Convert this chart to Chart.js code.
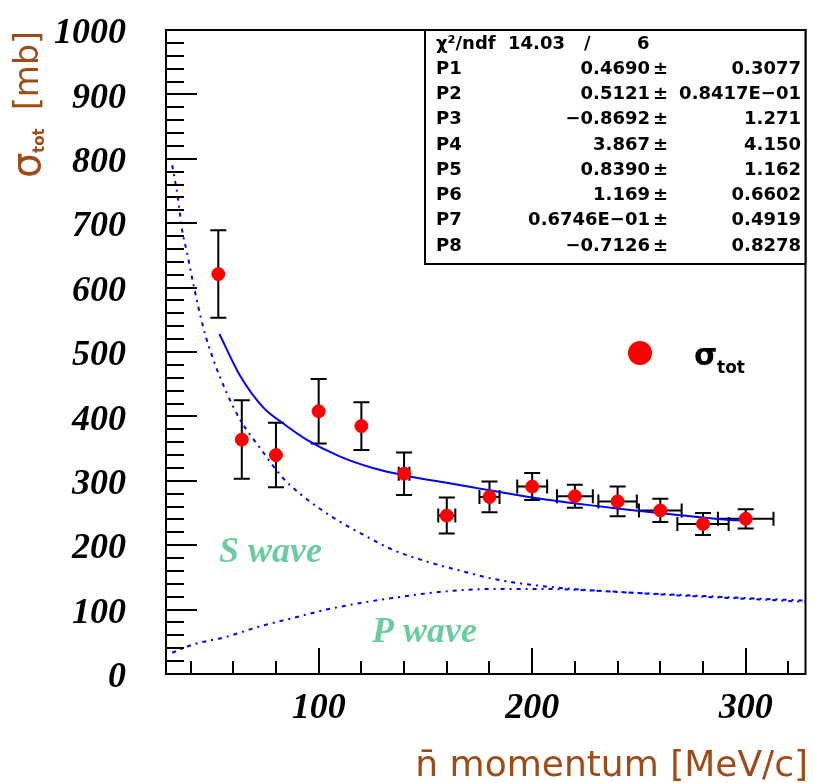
<!DOCTYPE html>
<html>
<head>
<meta charset="utf-8">
<script src="https://cdn.jsdelivr.net/npm/chart.js@4.4.0/dist/chart.umd.min.js"></script>
<style>
  html, body { margin: 0; padding: 0; background: #fff; }
  #wrap { width: 813px; height: 783px; }
</style>
</head>
<body>
<div id="wrap"><canvas id="c" width="813" height="783"></canvas></div>
<script>
// =========================
// DATA
// =========================
const momentum = [53, 64, 80, 100, 120, 140, 160, 180, 200, 220, 240, 260, 280, 300];
const sigmaTot = [621, 364, 340, 408, 385, 311, 246, 275, 291, 276, 268, 254, 233, 241];
const sigmaErr = [68, 61, 50, 50, 37, 33, 28, 24, 21, 18, 23, 18, 17, 15];
const momErr   = [0, 0, 0, 0, 0, 2.5, 4, 4.7, 7, 8.4, 9, 10, 12, 13];

// fit (solid line)
const fitX = [53.5, 63.2, 74, 83.4, 94.3, 109.8, 125.3, 140.9, 157.9, 173.5, 187.5, 206.1, 224.7, 244.9, 268.2, 290, 300];
const fitY = [528, 463, 414, 389, 364, 338, 320, 308, 298, 289, 281, 271, 263, 255, 247, 240, 238];

// S wave / P wave (dotted)
const sWaveX = [31.4, 34, 36, 38.3, 41.4, 46.1, 50.7, 57, 63.2, 72.5, 83.4, 92.7, 108.2, 122.2, 134.6, 150.2, 165.7, 182.8, 206.1, 237.1, 268.2, 299.3, 328];
const sWaveY = [790, 741, 690, 655, 604, 536, 488, 436, 395, 351, 304, 276, 240, 214, 193, 175, 161, 147, 136, 128, 123, 118, 114];
const pWaveX = [31.4, 41.4, 57, 72.5, 88, 103.6, 119.1, 134.6, 150.2, 165.7, 181.2, 206.1, 237.1, 268.2, 299.3, 328];
const pWaveY = [33, 46, 58, 74, 87, 100, 110, 118, 125, 130, 132, 132, 128, 122, 117, 112];

// axes
const xRange = [28.5, 328];
const yRange = [0, 1000];
const xTickLabels = [100, 200, 300];
const yTickLabels = [0, 100, 200, 300, 400, 500, 600, 700, 800, 900, 1000];
const minorStep = 20;

// fit statistics box
const statNames  = ["P1", "P2", "P3", "P4", "P5", "P6", "P7", "P8"];
const statValues = ["0.4690", "0.5121", "\u22120.8692", "3.867", "0.8390", "1.169", "0.6746E\u221201", "\u22120.7126"];
const statErrors = ["0.3077", "0.8417E\u221201", "1.271", "4.150", "1.162", "0.6602", "0.4919", "0.8278"];
const chi2 = "14.03", ndf = "6";

const toXY = (xs, ys) => xs.map((x, i) => ({ x: x, y: ys[i] }));

const BLUE = "#0000ff";
const BROWN = "#9e4b17";
const TEAL = "#6ccba2";

// error bars, frame, inward ticks, texts
const decorPlugin = {
    id: "decor",
    beforeDatasetsDraw(chart) {
        const c = chart.ctx, xs = chart.scales.x, ys = chart.scales.y;
        c.save();
        c.strokeStyle = "#000";
        c.lineWidth = 2;
        momentum.forEach((m, i) => {
            const px = xs.getPixelForValue(m);
            const py = ys.getPixelForValue(sigmaTot[i]);
            const top = ys.getPixelForValue(sigmaTot[i] + sigmaErr[i]);
            const bot = ys.getPixelForValue(sigmaTot[i] - sigmaErr[i]);
            c.beginPath();
            c.moveTo(px, top); c.lineTo(px, bot);
            c.moveTo(px - 8, top); c.lineTo(px + 8, top);
            c.moveTo(px - 8, bot); c.lineTo(px + 8, bot);
            if (momErr[i] > 0) {
                const l = xs.getPixelForValue(m - momErr[i]);
                const r = xs.getPixelForValue(m + momErr[i]);
                c.moveTo(l, py); c.lineTo(r, py);
                c.moveTo(l, py - 7); c.lineTo(l, py + 7);
                c.moveTo(r, py - 7); c.lineTo(r, py + 7);
            }
            c.stroke();
        });
        c.restore();
    },
    afterDraw(chart) {
        const c = chart.ctx, a = chart.chartArea, xs = chart.scales.x, ys = chart.scales.y;
        c.save();

        // frame
        c.strokeStyle = "#000";
        c.lineWidth = 2;
        c.strokeRect(a.left, a.top, a.right - a.left, a.bottom - a.top);

        // inward ticks
        c.beginPath();
        for (let v = yRange[0]; v <= yRange[1]; v += minorStep) {
            const py = Math.round(ys.getPixelForValue(v));
            const len = (v % 100 === 0) ? 31 : 18;
            c.moveTo(a.left, py); c.lineTo(a.left + len, py);
        }
        for (let v = 40; v <= xRange[1]; v += minorStep) {
            const px = Math.round(xs.getPixelForValue(v));
            const len = (v % 100 === 0) ? 26 : 13;
            c.moveTo(px, a.bottom); c.lineTo(px, a.bottom - len);
        }
        c.stroke();

        // stats box
        const bx = 425, by = a.top, bw = a.right - bx, bh = 234;
        c.fillStyle = "#fff";
        c.fillRect(bx, by, bw, bh);
        c.strokeRect(bx, by, bw, bh);
        c.fillStyle = "#000";
        c.font = "bold 18px 'DejaVu Sans'";
        c.textBaseline = "middle";
        c.textAlign = "left";
        c.fillText("\u03c7\u00b2/ndf", 436, 44);
        c.fillText(chi2, 508, 44);
        c.fillText("/", 584, 44);
        c.fillText(ndf, 637, 44);
        statNames.forEach((n, i) => {
            const y = 69 + i * 25.3;
            c.textAlign = "left";
            c.fillText(n, 436, y);
            c.textAlign = "right";
            c.fillText(statValues[i], 650, y);
            c.textAlign = "left";
            c.fillText("\u00b1", 653, y);
            c.textAlign = "right";
            c.fillText(statErrors[i], 801, y);
        });

        // legend entry
        c.fillStyle = "#ff0000";
        c.beginPath();
        c.arc(640, 353, 12, 0, Math.PI * 2);
        c.fill();
        c.fillStyle = "#000";
        c.textAlign = "left";
        c.textBaseline = "alphabetic";
        c.font = "bold 30px 'DejaVu Sans'";
        c.fillText("\u03c3", 694, 365);
        c.font = "bold 17px 'DejaVu Sans'";
        c.fillText("tot", 717, 373);

        // wave labels
        c.fillStyle = TEAL;
        c.font = "bold italic 36px 'Liberation Serif'";
        c.fillText("S wave", 219, 562);
        c.fillText("P wave", 372, 642);

        // x title
        c.fillStyle = BROWN;
        c.textAlign = "right";
        c.font = "36px 'DejaVu Sans'";
        c.fillText("n\u0304 momentum [MeV/c]", 808, 776);

        // y title
        c.translate(40, 178);
        c.rotate(-Math.PI / 2);
        c.textAlign = "left";
        c.font = "40px 'DejaVu Sans'";
        c.fillText("\u03c3", 0, 0);
        c.font = "bold 15px 'DejaVu Sans'";
        c.fillText("tot", 25, 4);
        c.font = "33px 'DejaVu Sans'";
        c.fillText("[mb]", 68, -2);

        c.restore();
    }
};

const tickFont = { family: "'Liberation Serif'", size: 36, style: "italic", weight: "bold" };

new Chart(document.getElementById("c"), {
    type: "scatter",
    data: {
        datasets: [
            {
                label: "sigma_tot",
                data: toXY(momentum, sigmaTot),
                backgroundColor: "#ff0000",
                borderColor: "#ff0000",
                pointRadius: 6.5,
                order: 0
            },
            {
                label: "fit",
                type: "line",
                data: toXY(fitX, fitY),
                borderColor: BLUE,
                borderWidth: 2,
                pointRadius: 0,
                cubicInterpolationMode: "monotone",
                fill: false,
                order: 1
            },
            {
                label: "S wave",
                type: "line",
                data: toXY(sWaveX, sWaveY),
                borderColor: BLUE,
                borderWidth: 2,
                borderDash: [4, 5, 2, 5],
                pointRadius: 0,
                cubicInterpolationMode: "monotone",
                fill: false,
                order: 2
            },
            {
                label: "P wave",
                type: "line",
                data: toXY(pWaveX, pWaveY),
                borderColor: BLUE,
                borderWidth: 2,
                borderDash: [4, 5, 2, 5],
                pointRadius: 0,
                cubicInterpolationMode: "monotone",
                fill: false,
                order: 2
            }
        ]
    },
    options: {
        responsive: false,
        animation: false,
        layout: { padding: { top: 30, right: 5, left: 0, bottom: 0 } },
        plugins: {
            legend: { display: false },
            tooltip: { enabled: false }
        },
        scales: {
            x: {
                type: "linear",
                min: xRange[0],
                max: xRange[1],
                afterBuildTicks: s => { s.ticks = xTickLabels.map(v => ({ value: v })); },
                afterFit: s => { s.height = 109; s.paddingLeft = 0; s.paddingRight = 0; },
                grid: { display: false },
                border: { display: false },
                ticks: { font: tickFont, color: "#000", padding: 5, maxRotation: 0, callback: v => String(v) }
            },
            y: {
                min: yRange[0],
                max: yRange[1],
                afterBuildTicks: s => { s.ticks = yTickLabels.map(v => ({ value: v })); },
                afterFit: s => { s.width = 166; s.paddingTop = 0; s.paddingBottom = 0; },
                grid: { display: false },
                border: { display: false },
                ticks: { font: tickFont, color: "#000", padding: 32, labelOffset: 4, callback: v => String(v) }
            }
        }
    },
    plugins: [decorPlugin]
});
</script>
</body>
</html>
